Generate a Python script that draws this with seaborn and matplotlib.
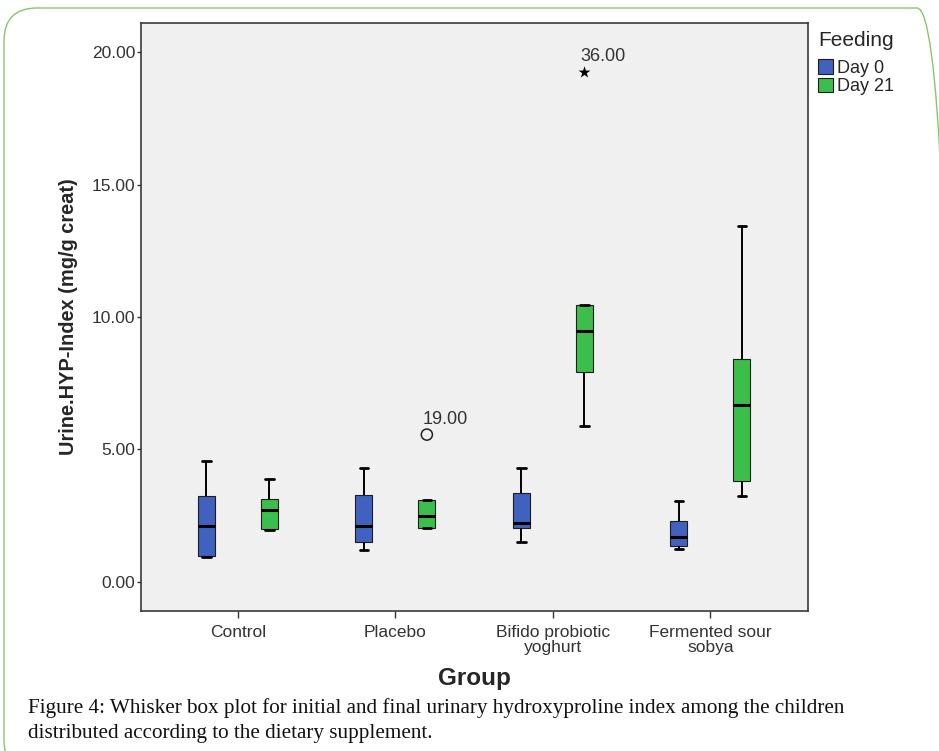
import numpy as np
import pandas as pd
import matplotlib
matplotlib.use("Agg")
import matplotlib.pyplot as plt
from matplotlib.patches import FancyBboxPatch
from matplotlib.transforms import IdentityTransform
import seaborn as sns

# ── Data ───────────────────────────────────────────────────────────────────
groups = ["Control", "Placebo", "Bifido probiotic\nyoghurt", "Fermented sour\nsobya"]
feeding = ["Day 0", "Day 21"]

# five-number summary per box: lower whisker, Q1, median, Q3, upper whisker
day0_stats = [
    [0.92, 0.96, 2.12, 3.25, 4.57],
    [1.22, 1.50, 2.12, 3.28, 4.30],
    [1.50, 2.03, 2.24, 3.35, 4.31],
    [1.24, 1.36, 1.70, 2.29, 3.05],
]
day21_stats = [
    [1.97, 1.99, 2.71, 3.14, 3.89],
    [2.04, 2.04, 2.50, 3.10, 3.10],
    [5.87, 7.93, 9.46, 10.44, 10.44],
    [3.23, 3.81, 6.67, 8.42, 13.42],
]

# outliers (SPSS case labels)
outlier_group = ["Placebo", "Bifido probiotic\nyoghurt"]
outlier_feeding = ["Day 21", "Day 21"]
outlier_value = [5.56, 19.26]
outlier_label = ["19.00", "36.00"]
outlier_marker = ["o", "*"]

caption = ("Figure 4: Whisker box plot for initial and final urinary hydroxyproline index among the children\n"
           "distributed according to the dietary supplement.")

COLORS = {"Day 0": "#4161BE", "Day 21": "#3CBE4C"}

# ── Long-form table ────────────────────────────────────────────────────────
rows = []
for day, stats in zip(feeding, [day0_stats, day21_stats]):
    for grp, vals in zip(groups, stats):
        for v in vals:
            rows.append({"Group": grp, "Feeding": day, "value": v})
df = pd.DataFrame(rows)

# ── Figure ─────────────────────────────────────────────────────────────────
sns.set_style("ticks")
plt.rcParams["font.family"] = ["Liberation Sans", "DejaVu Sans"]

fig = plt.figure(figsize=(9.39, 7.51), dpi=100)
ax = fig.add_axes([141 / 939, 1 - 611 / 751, 667 / 939, 588 / 751])
ax.set_facecolor("#F0F0F0")

sns.boxplot(
    data=df, x="Group", y="value", hue="Feeding",
    order=groups, hue_order=feeding, palette=COLORS, saturation=1,
    whis=(0, 100), width=0.8, gap=0.73, linecolor="#1e1e1e", linewidth=0.8,
    medianprops={"color": "black", "linewidth": 2.2},
    whiskerprops={"color": "black", "linewidth": 1.4},
    capprops={"color": "black", "linewidth": 2.0},
    ax=ax,
)

# outliers, dodged like the boxes
for grp, day, val, lab, mk in zip(outlier_group, outlier_feeding, outlier_value,
                                  outlier_label, outlier_marker):
    pt = pd.DataFrame({"Group": [grp], "Feeding": [day], "value": [val]})
    n_before = len(ax.collections)
    sns.stripplot(
        data=pt, x="Group", y="value", hue="Feeding",
        order=groups, hue_order=feeding, dodge=True, jitter=False,
        palette={"Day 0": "black", "Day 21": "black"},
        marker=mk, size=8 if mk == "o" else 9, linewidth=0, legend=False, ax=ax,
    )
    coll = [c for c in ax.collections[n_before:] if len(c.get_offsets())][0]
    if mk == "o":
        coll.set_facecolor("none")
        coll.set_edgecolor("#222222")
        coll.set_linewidth(1.1)
    x0, y0 = coll.get_offsets()[0]
    ax.annotate(lab, (x0, y0), xytext=(-3, 5), textcoords="offset points",
                ha="left", va="bottom", fontsize=13, color="#333333")

ax.set_xlim(-0.615, 3.62)
ax.set_ylim(-1.1, 21.1)
ax.set_yticks([0, 5, 10, 15, 20])
ax.set_yticklabels([f"{t:.2f}" for t in [0, 5, 10, 15, 20]])

ax.tick_params(axis="y", direction="out", length=3, width=1, pad=1,
               labelsize=12.5, colors="#333333")
ax.tick_params(axis="x", direction="out", length=5, width=1, pad=5,
               labelsize=12.5, colors="#333333")
for lab in ax.get_xticklabels():
    lab.set_linespacing(1.05)
for sp in ax.spines.values():
    sp.set_visible(True)
    sp.set_color("#3a3a3a")
    sp.set_linewidth(1.2)

ax.set_xlabel("Group", fontsize=17.5, fontweight="bold", labelpad=8)
ax.set_ylabel("Urine.HYP-Index (mg/g creat)", fontsize=14.4, fontweight="bold", labelpad=10)

sns.move_legend(
    ax, "upper left", bbox_to_anchor=(1.015, 0.987), frameon=False,
    title="Feeding", fontsize=13, title_fontsize=15, alignment="left",
    borderpad=0, borderaxespad=0, handlelength=0.85, handleheight=0.85,
    handletextpad=0.2, labelspacing=0.05,
)
# extra room between the legend title and its entries
ax.get_legend()._legend_box.sep = 7

# caption
fig.text(28 / 939, 1 - 720.5 / 751, caption, ha="left", va="center",
         family=["Liberation Serif", "DejaVu Serif"], fontsize=15.2,
         linespacing=1.38, color="#111111")

# rounded green page border (pixel coords)
r = 33
border = FancyBboxPatch((4 + r, -22 + r), 946 - 2 * r, 765 - 2 * r,
                        boxstyle=f"round,pad={r}", transform=IdentityTransform(),
                        facecolor="none", edgecolor="#8CC46E", linewidth=1.0)
fig.add_artist(border)

fig.savefig("out.png", dpi=100)
